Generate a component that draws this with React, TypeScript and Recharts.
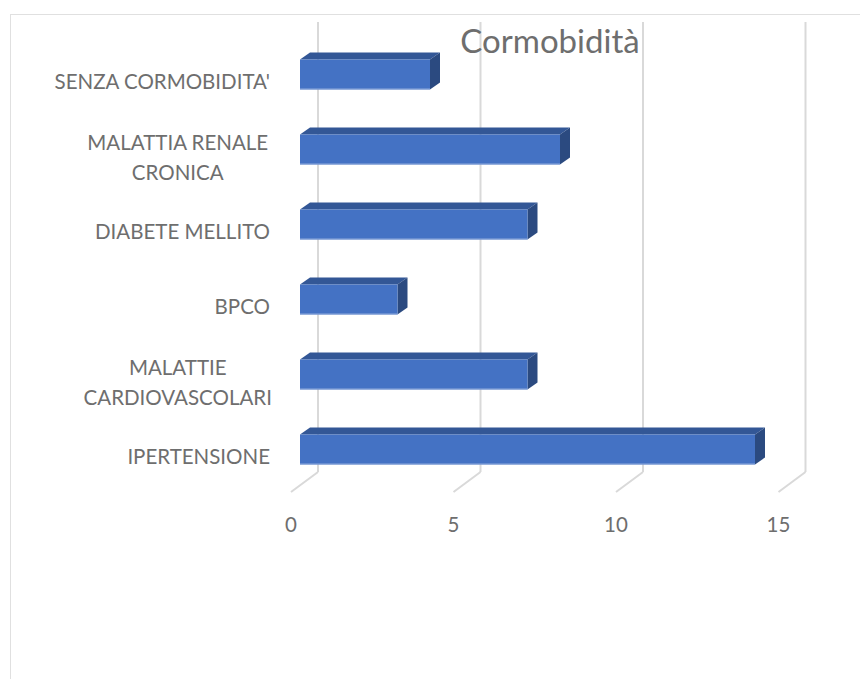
import React from "react";
import { BarChart, Bar, XAxis, YAxis, CartesianGrid } from "recharts";

const categories = [
  "SENZA CORMOBIDITA'",
  "MALATTIA RENALE CRONICA",
  "DIABETE MELLITO",
  "BPCO",
  "MALATTIE CARDIOVASCOLARI",
  "IPERTENSIONE",
];
const values = [4, 8, 7, 3, 7, 14];
const xTicks = [0, 5, 10, 15];

// two-line labels as they wrap in the original
const labelLines: Record<string, string[]> = {
  "MALATTIA RENALE CRONICA": ["MALATTIA RENALE", "CRONICA"],
  "MALATTIE CARDIOVASCOLARI": ["MALATTIE", "CARDIOVASCOLARI"],
};

const data = categories.map((name, i) => ({ name, value: values[i] }));

const FONT = "Lato, 'Open Sans', sans-serif";
const TEXT = "#6e6e6e";
const GRID = "#d9d9d9";
const LABEL_SIZE = 20.5;
const DX = 10; // bar depth
const DY = 7;

const Bar3D = (props: any) => {
  const { x, y, width, height } = props;
  if (!width) return null;
  return (
    <g>
      <polygon
        points={`${x},${y} ${x + width},${y} ${x + width + DX},${y - DY} ${x + DX},${y - DY}`}
        fill="#335796"
      />
      <polygon
        points={`${x + width},${y} ${x + width + DX},${y - DY} ${x + width + DX},${y + height - DY} ${x + width},${y + height}`}
        fill="#2b4a80"
      />
      <rect x={x} y={y} width={width} height={height} fill="#4472c4" />
      <line x1={x} x2={x + width} y1={y + height - 0.5} y2={y + height - 0.5} stroke="#8faadc" strokeWidth={1} />
    </g>
  );
};

const CategoryTick = (props: any) => {
  const { x, y, payload } = props;
  const lines = labelLines[payload.value] || [payload.value];
  if (lines.length === 1) {
    return (
      <text x={x} y={y + 8} dy="0.35em" textAnchor="end" fill={TEXT} fontFamily={FONT} fontSize={LABEL_SIZE}>
        {lines[0]}
      </text>
    );
  }
  // centre the wrapped lines on each other, right edge at x
  const widest = Math.max(...lines.map((l) => l.length));
  return (
    <g>
      {lines.map((l, i) => (
        <text
          key={i}
          x={x - widest * 6.15}
          y={y + 9 + (i - 0.5) * 30.5}
          dy="0.35em"
          textAnchor="middle"
          fill={TEXT}
          fontFamily={FONT}
          fontSize={LABEL_SIZE}
        >
          {l}
        </text>
      ))}
    </g>
  );
};

const ValueTick = (props: any) => {
  const { x, y, payload } = props;
  return (
    <text x={x - 9} y={y + 38} dy="0.35em" textAnchor="middle" fill={TEXT} fontFamily={FONT} fontSize={LABEL_SIZE}>
      {payload.value}
    </text>
  );
};

const GridLine = (props: any) => {
  const { x1, y1, y2 } = props;
  return (
    <g>
      <line x1={x1 + 18} x2={x1 + 18} y1={y1 - 14.5} y2={y2 - 14.5} stroke={GRID} strokeWidth={2} />
      <line x1={x1 + 18} x2={x1 - 9} y1={y2 - 14.5} y2={y2 + 5.5} stroke={GRID} strokeWidth={2} />
    </g>
  );
};

export default function App() {
  return (
    <div style={{ position: "fixed", left: 0, top: 0, width: 860, height: 679, background: "#fff" }}>
      <div
        style={{
          position: "absolute",
          left: 10,
          top: 14,
          width: 860,
          height: 700,
          border: "1.5px solid #e0e0e0",
        }}
      />
      <BarChart
        width={860}
        height={679}
        data={data}
        layout="vertical"
        margin={{ top: 36.5, right: 72.5, bottom: 162.5, left: 0 }}
        style={{ position: "absolute", left: 0, top: 0 }}
      >
        <CartesianGrid horizontal={false} vertical={GridLine} />
        <XAxis
          type="number"
          domain={[0, 15]}
          ticks={xTicks}
          height={30}
          axisLine={false}
          tickLine={false}
          tickSize={0}
          tickMargin={0}
          tick={<ValueTick />}
          interval={0}
        />
        <YAxis
          type="category"
          dataKey="name"
          width={300}
          axisLine={false}
          tickLine={false}
          tickSize={0}
          tickMargin={30}
          tick={<CategoryTick />}
          interval={0}
        />
        <text x={550} y={53} textAnchor="middle" fill={TEXT} fontFamily={FONT} fontSize={33}>
          Cormobidità
        </text>
        <Bar dataKey="value" barSize={30} shape={<Bar3D />} isAnimationActive={false} />
      </BarChart>
    </div>
  );
}
